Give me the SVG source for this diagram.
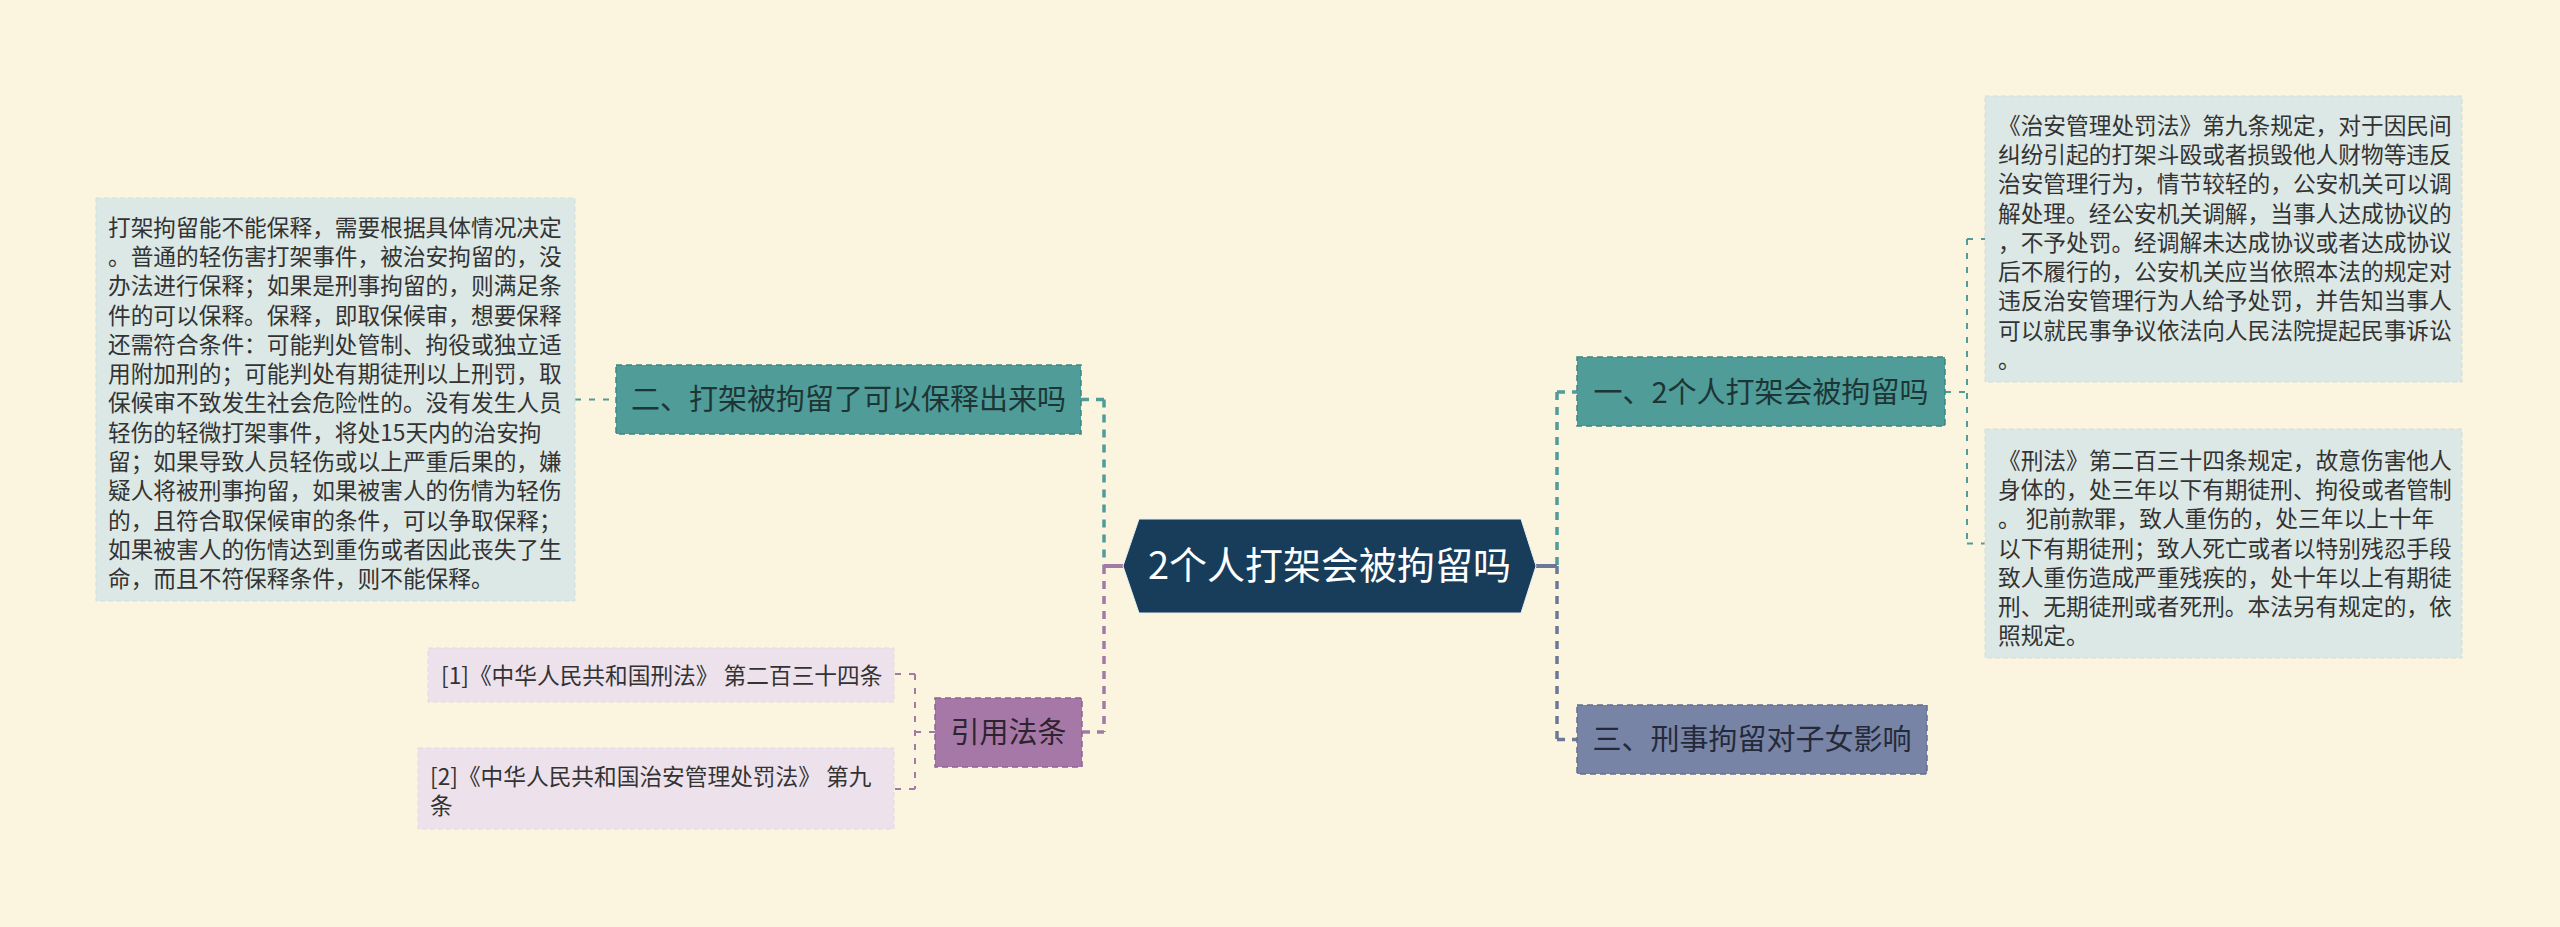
<svg xmlns="http://www.w3.org/2000/svg" width="2560" height="927" viewBox="0 0 2560 927">
<style>
text{font-family:"Noto Sans CJK SC","Noto Sans",sans-serif;}
.body{font-size:22.7px;fill:#333333;}
.l1{font-size:29px;text-anchor:middle;}
.c1{fill:none;stroke-width:3.5;stroke-dasharray:8 7;}
.c2{fill:none;stroke-width:2;stroke-dasharray:6 8;}
.teal{stroke:#4f9c99;}
.slate{stroke:#6c7898;}
.purp{stroke:#a27aa6;}
</style>
<rect x="0" y="0" width="2560" height="927" fill="#fbf5e0"/>
<g id="connectors">
  <line x1="1104" y1="399.5" x2="1104" y2="566" class="c1 teal"/>
  <line x1="1081" y1="399.5" x2="1104" y2="399.5" class="c1 teal"/>
  <line x1="1104" y1="566" x2="1104" y2="732" class="c1 purp"/>
  <line x1="1082" y1="732" x2="1104" y2="732" class="c1 purp"/>
  <line x1="1123" y1="566" x2="1104" y2="566" stroke="#a27aa6" stroke-width="4"/>
  <line x1="1557" y1="392" x2="1557" y2="566" class="c1 teal"/>
  <line x1="1557" y1="392" x2="1577" y2="392" class="c1 teal"/>
  <line x1="1557" y1="566" x2="1557" y2="739.5" class="c1 slate"/>
  <line x1="1557" y1="739.5" x2="1577" y2="739.5" class="c1 slate"/>
  <line x1="1536" y1="566" x2="1557" y2="566" stroke="#6c7898" stroke-width="4"/>
  <line x1="1945" y1="392" x2="1967" y2="392" class="c2 teal"/>
  <line x1="1967" y1="239" x2="1967" y2="543.5" class="c2 teal"/>
  <line x1="1967" y1="239" x2="1985" y2="239" class="c2 teal"/>
  <line x1="1967" y1="543.5" x2="1985" y2="543.5" class="c2 teal"/>
  <line x1="575" y1="399.5" x2="616" y2="399.5" class="c2 teal"/>
  <line x1="935" y1="732" x2="915" y2="732" class="c2 purp"/>
  <line x1="915" y1="674" x2="915" y2="789" class="c2 purp"/>
  <line x1="915" y1="674" x2="894" y2="674" class="c2 purp"/>
  <line x1="915" y1="789" x2="894" y2="789" class="c2 purp"/>
</g>
<g id="central">
  <polygon points="1123,566 1139,519 1521,519 1536,566 1521,613 1139,613" fill="#173d5b" stroke="#e9eef2" stroke-width="1"/>
  <text x="1329.5" y="579" font-size="38" fill="#ffffff" text-anchor="middle">2个人打架会被拘留吗</text>
</g>
<g id="n1">
  <rect x="1577" y="357" width="368" height="69" fill="#4f9c99" stroke="#3f8683" stroke-width="1.5" stroke-dasharray="6 4"/>
  <text x="1761" y="402.5" class="l1" fill="#1e3535">一、2个人打架会被拘留吗</text>
</g>
<g id="n2">
  <rect x="616" y="365" width="465" height="69" fill="#4f9c99" stroke="#3f8683" stroke-width="1.5" stroke-dasharray="6 4"/>
  <text x="848.5" y="410" class="l1" fill="#1e3535">二、打架被拘留了可以保释出来吗</text>
</g>
<g id="n3">
  <rect x="1577" y="705" width="350" height="69" fill="#7884a6" stroke="#646f8f" stroke-width="1.5" stroke-dasharray="6 4"/>
  <text x="1752" y="750" class="l1" fill="#252a3a">三、刑事拘留对子女影响</text>
</g>
<g id="n4">
  <rect x="935" y="698" width="147" height="69" fill="#a678a8" stroke="#8f6392" stroke-width="1.5" stroke-dasharray="6 4"/>
  <text x="1008.5" y="742.5" class="l1" fill="#2e2430">引用法条</text>
</g>
<g id="t1">
  <rect x="1985" y="96" width="477" height="286" fill="#dce8e5" stroke="#cfdfdb" stroke-width="1" stroke-dasharray="5 3"/>
  <text class="body">
    <tspan x="1998" y="133.6">《治安管理处罚法》第九条规定，对于因民间</tspan>
    <tspan x="1998" y="162.9">纠纷引起的打架斗殴或者损毁他人财物等违反</tspan>
    <tspan x="1998" y="192.2">治安管理行为，情节较轻的，公安机关可以调</tspan>
    <tspan x="1998" y="221.5">解处理。经公安机关调解，当事人达成协议的</tspan>
    <tspan x="1998" y="250.8">，不予处罚。经调解未达成协议或者达成协议</tspan>
    <tspan x="1998" y="280.1">后不履行的，公安机关应当依照本法的规定对</tspan>
    <tspan x="1998" y="309.4">违反治安管理行为人给予处罚，并告知当事人</tspan>
    <tspan x="1998" y="338.7">可以就民事争议依法向人民法院提起民事诉讼</tspan>
    <tspan x="1998" y="368">。</tspan>
  </text>
</g>
<g id="t2">
  <rect x="1985" y="429" width="477" height="229" fill="#dce8e5" stroke="#cfdfdb" stroke-width="1" stroke-dasharray="5 3"/>
  <text class="body">
    <tspan x="1998" y="468.6">《刑法》第二百三十四条规定，故意伤害他人</tspan>
    <tspan x="1998" y="497.9">身体的，处三年以下有期徒刑、拘役或者管制</tspan>
    <tspan x="1998" y="527.2">。 犯前款罪，致人重伤的，处三年以上十年</tspan>
    <tspan x="1998" y="556.5">以下有期徒刑；致人死亡或者以特别残忍手段</tspan>
    <tspan x="1998" y="585.8">致人重伤造成严重残疾的，处十年以上有期徒</tspan>
    <tspan x="1998" y="615.1">刑、无期徒刑或者死刑。本法另有规定的，依</tspan>
    <tspan x="1998" y="644.4">照规定。</tspan>
  </text>
</g>
<g id="t3">
  <rect x="96" y="198" width="479" height="403" fill="#dce8e5" stroke="#cfdfdb" stroke-width="1" stroke-dasharray="5 3"/>
  <text class="body">
    <tspan x="108" y="235.6">打架拘留能不能保释，需要根据具体情况决定</tspan>
    <tspan x="108" y="264.9">。普通的轻伤害打架事件，被治安拘留的，没</tspan>
    <tspan x="108" y="294.2">办法进行保释；如果是刑事拘留的，则满足条</tspan>
    <tspan x="108" y="323.5">件的可以保释。保释，即取保候审，想要保释</tspan>
    <tspan x="108" y="352.8">还需符合条件：可能判处管制、拘役或独立适</tspan>
    <tspan x="108" y="382.1">用附加刑的；可能判处有期徒刑以上刑罚，取</tspan>
    <tspan x="108" y="411.4">保候审不致发生社会危险性的。没有发生人员</tspan>
    <tspan x="108" y="440.7">轻伤的轻微打架事件，将处15天内的治安拘</tspan>
    <tspan x="108" y="470">留；如果导致人员轻伤或以上严重后果的，嫌</tspan>
    <tspan x="108" y="499.3">疑人将被刑事拘留，如果被害人的伤情为轻伤</tspan>
    <tspan x="108" y="528.6">的，且符合取保候审的条件，可以争取保释；</tspan>
    <tspan x="108" y="557.9">如果被害人的伤情达到重伤或者因此丧失了生</tspan>
    <tspan x="108" y="587.2">命，而且不符保释条件，则不能保释。</tspan>
  </text>
</g>
<g id="r1">
  <rect x="428" y="648" width="466" height="54" fill="#ede2ec" stroke="#e3d6e2" stroke-width="1" stroke-dasharray="5 3"/>
  <text x="441" y="684" class="body">[1]《中华人民共和国刑法》 第二百三十四条</text>
</g>
<g id="r2">
  <rect x="418" y="748" width="476" height="81" fill="#ede2ec" stroke="#e3d6e2" stroke-width="1" stroke-dasharray="5 3"/>
  <text class="body">
    <tspan x="430" y="785">[2]《中华人民共和国治安管理处罚法》 第九</tspan>
    <tspan x="430" y="814.3">条</tspan>
  </text>
</g>
</svg>
